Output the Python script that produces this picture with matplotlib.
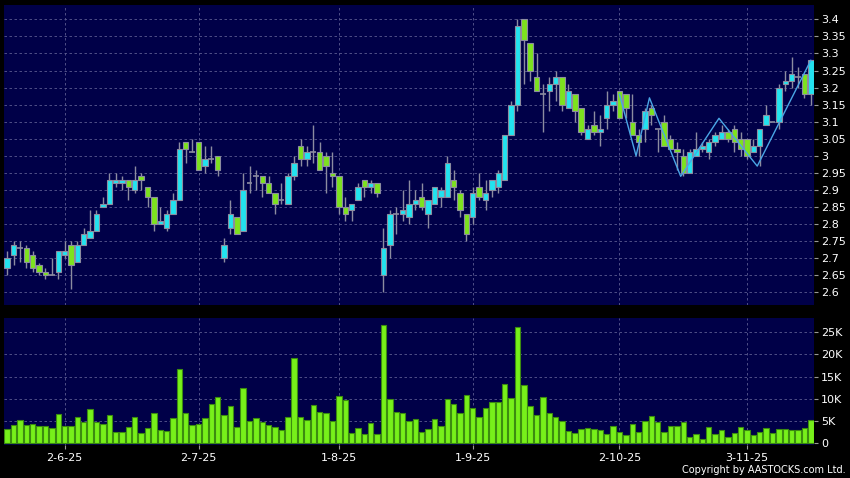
import matplotlib
matplotlib.use("Agg")
import matplotlib.pyplot as plt
import numpy as np

# daily OHLC (HKD)
opens = [2.67, 2.71, 2.73, 2.73, 2.71, 2.68, 2.66, 2.65, 2.66, 2.71,
         2.74, 2.69, 2.74, 2.76, 2.78, 2.85, 2.86, 2.92, 2.92, 2.93,
         2.90, 2.94, 2.91, 2.88, 2.80, 2.79, 2.83, 2.87, 3.04, 3.01,
         3.04, 2.97, 2.99, 3.00, 2.70, 2.79, 2.82, 2.78, 2.92, 2.94,
         2.94, 2.92, 2.89, 2.87, 2.86, 2.94, 3.03, 2.99, 3.01, 3.01,
         3.00, 2.95, 2.94, 2.85, 2.84, 2.87, 2.93, 2.91, 2.92, 2.65,
         2.74, 2.83, 2.83, 2.82, 2.86, 2.88, 2.83, 2.86, 2.88, 2.88,
         2.93, 2.89, 2.83, 2.82, 2.91, 2.87, 2.90, 2.91, 2.93, 3.06,
         3.15, 3.40, 3.33, 3.23, 3.18, 3.19, 3.21, 3.23, 3.14, 3.18,
         3.14, 3.05, 3.09, 3.07, 3.11, 3.15, 3.19, 3.18, 3.10, 3.06,
         3.08, 3.14, 3.08, 3.10, 3.05, 3.02, 3.00, 2.95, 3.00, 3.02,
         3.01, 3.04, 3.05, 3.07, 3.08, 3.05, 3.05, 3.01, 3.03, 3.09,
         3.10, 3.10, 3.21, 3.22, 3.23, 3.24, 3.18]
highs = [2.72, 2.75, 2.75, 2.74, 2.72, 2.685, 2.67, 2.70, 2.72, 2.75,
         2.75, 2.75, 2.79, 2.84, 2.84, 2.88, 2.95, 2.95, 2.94, 2.93,
         2.97, 2.95, 2.91, 2.88, 2.85, 2.84, 2.89, 3.04, 3.04, 3.05,
         3.04, 3.03, 3.03, 3.00, 2.76, 2.87, 2.82, 2.95, 2.97, 2.96,
         2.94, 2.94, 2.89, 2.92, 2.95, 3.00, 3.05, 3.03, 3.09, 3.04,
         3.01, 3.01, 2.94, 2.88, 2.86, 2.92, 2.93, 2.93, 2.92, 2.79,
         2.84, 2.85, 2.90, 2.93, 2.90, 2.92, 2.87, 2.91, 2.91, 3.00,
         2.96, 2.90, 2.83, 2.91, 2.95, 2.93, 2.93, 2.96, 3.06, 3.16,
         3.40, 3.40, 3.33, 3.30, 3.21, 3.23, 3.25, 3.23, 3.21, 3.18,
         3.14, 3.09, 3.13, 3.12, 3.19, 3.18, 3.19, 3.18, 3.18, 3.08,
         3.14, 3.15, 3.08, 3.12, 3.06, 3.04, 3.02, 3.02, 3.07, 3.04,
         3.05, 3.07, 3.09, 3.08, 3.09, 3.07, 3.05, 3.05, 3.08, 3.15,
         3.10, 3.21, 3.25, 3.29, 3.26, 3.24, 3.28]
lows = [2.65, 2.68, 2.69, 2.67, 2.66, 2.65, 2.64, 2.65, 2.64, 2.70,
        2.61, 2.69, 2.74, 2.76, 2.78, 2.85, 2.86, 2.91, 2.90, 2.87,
        2.89, 2.90, 2.85, 2.78, 2.80, 2.78, 2.83, 2.87, 2.98, 3.01,
        2.96, 2.95, 2.98, 2.94, 2.69, 2.77, 2.77, 2.78, 2.89, 2.90,
        2.88, 2.89, 2.83, 2.86, 2.86, 2.93, 2.97, 2.97, 2.98, 2.96,
        2.89, 2.91, 2.83, 2.81, 2.81, 2.87, 2.88, 2.89, 2.88, 2.60,
        2.70, 2.77, 2.81, 2.80, 2.84, 2.84, 2.79, 2.86, 2.85, 2.88,
        2.87, 2.82, 2.75, 2.80, 2.87, 2.84, 2.88, 2.89, 2.93, 3.06,
        3.13, 3.21, 3.22, 3.19, 3.07, 3.13, 3.16, 3.13, 3.14, 3.10,
        3.06, 3.05, 3.06, 3.03, 3.08, 3.13, 3.11, 3.11, 3.06, 3.00,
        3.04, 3.09, 3.01, 3.03, 3.02, 2.96, 2.94, 2.95, 3.00, 3.01,
        2.99, 3.03, 3.05, 3.04, 3.01, 3.00, 2.99, 3.01, 2.97, 3.09,
        3.10, 3.08, 3.19, 3.20, 3.20, 3.17, 3.15]
closes = [2.70, 2.74, 2.73, 2.69, 2.67, 2.66, 2.65, 2.65, 2.72, 2.72,
          2.68, 2.74, 2.77, 2.78, 2.83, 2.86, 2.93, 2.93, 2.93, 2.91,
          2.93, 2.93, 2.88, 2.80, 2.81, 2.83, 2.87, 3.02, 3.02, 3.01,
          2.96, 2.99, 2.99, 2.96, 2.74, 2.83, 2.77, 2.90, 2.92, 2.94,
          2.92, 2.89, 2.86, 2.87, 2.94, 2.98, 2.99, 3.01, 3.01, 2.96,
          2.97, 2.94, 2.85, 2.83, 2.86, 2.91, 2.91, 2.92, 2.89, 2.73,
          2.83, 2.83, 2.84, 2.86, 2.87, 2.85, 2.87, 2.91, 2.90, 2.98,
          2.91, 2.84, 2.77, 2.89, 2.88, 2.89, 2.93, 2.95, 3.06, 3.15,
          3.38, 3.34, 3.25, 3.19, 3.18, 3.21, 3.23, 3.15, 3.19, 3.13,
          3.07, 3.08, 3.07, 3.08, 3.15, 3.16, 3.11, 3.14, 3.06, 3.04,
          3.13, 3.12, 3.08, 3.03, 3.02, 3.01, 2.95, 3.01, 3.02, 3.03,
          3.04, 3.06, 3.07, 3.05, 3.04, 3.02, 3.00, 3.03, 3.08, 3.12,
          3.10, 3.20, 3.22, 3.24, 3.23, 3.18, 3.28]

# volume in thousands of shares
volume_k = [3.2, 4.1, 5.3, 4.1, 4.3, 3.9, 3.8, 3.4, 6.5, 3.9,
            3.8, 5.9, 4.8, 7.7, 4.7, 4.3, 6.3, 2.6, 2.6, 3.6,
            5.9, 2.3, 3.5, 6.9, 2.9, 2.7, 5.6, 16.7, 6.9, 4.0,
            4.3, 5.6, 8.8, 10.5, 6.3, 8.3, 3.7, 12.5, 5.1, 5.6,
            4.7, 4.0, 3.7, 2.9, 5.9, 19.2, 5.8, 5.2, 8.5, 7.0,
            6.8, 5.0, 10.6, 9.8, 2.3, 3.4, 2.0, 4.6, 2.1, 26.6,
            10.0, 7.1, 6.8, 5.1, 5.5, 2.6, 3.2, 5.4, 3.9, 10.0,
            8.9, 6.8, 10.9, 8.0, 5.8, 8.0, 9.3, 9.3, 13.4, 10.2,
            26.1, 13.2, 8.3, 6.4, 10.5, 6.9, 5.9, 5.0, 2.7, 2.2,
            3.2, 3.4, 3.2, 2.9, 2.0, 3.9, 2.6, 1.9, 4.4, 2.6,
            5.0, 6.1, 4.7, 2.6, 3.8, 3.8, 4.8, 1.3, 2.0, 1.0,
            3.7, 2.1, 2.9, 1.4, 2.3, 3.6, 2.9, 1.8, 2.5, 3.5,
            2.4, 3.2, 3.2, 3.0, 2.9, 3.5, 5.3]

# zigzag overlay (bar position, price)
zz_x = [96, 98.6, 100.7, 105.6, 111.6, 117.6, 126]
zz_y = [3.18, 3.00, 3.17, 2.94, 3.11, 2.97, 3.28]

date_pos = [9, 30, 52, 73, 96, 116]
date_labels = ["2-6-25", "2-7-25", "1-8-25", "1-9-25", "2-10-25", "3-11-25"]

price_ticks = [2.6, 2.65, 2.7, 2.75, 2.8, 2.85, 2.9, 2.95, 3.0,
               3.05, 3.1, 3.15, 3.2, 3.25, 3.3, 3.35, 3.4]
vol_ticks = [0, 5, 10, 15, 20, 25]

BG = "#000048"
UP = "#22e3ef"
DOWN = "#7de21e"
EDGE = "#8c8ca0"
GRID = "#5c5c90"

fig = plt.figure(figsize=(8.5, 4.78), dpi=100, facecolor="black")
ax = fig.add_axes([4 / 850, 1 - 305 / 478, 810 / 850, 300 / 478], facecolor=BG)
axv = fig.add_axes([4 / 850, 1 - 445 / 478, 810 / 850, 127 / 478], facecolor=BG)

x = np.arange(len(opens))
o = np.array(opens)
c = np.array(closes)

# wicks
ax.vlines(x, lows, highs, color=EDGE, lw=1, zorder=2)

# bodies
up = c > o
down = c < o
flat = c == o
ax.bar(x[up], (c - o)[up], bottom=o[up], width=0.85, color=UP,
       edgecolor=EDGE, lw=0.8, zorder=3)
ax.bar(x[down], (o - c)[down], bottom=c[down], width=0.85, color=DOWN,
       edgecolor=EDGE, lw=0.8, zorder=3)
ax.hlines(o[flat], x[flat] - 0.45, x[flat] + 0.45, color=EDGE, lw=1.2, zorder=3)

ax.plot(zz_x, zz_y, color="#4aa6e6", lw=1, zorder=4)

ax.set_xlim(-0.5, len(opens) - 0.5)
ax.set_ylim(2.563, 3.442)
ax.set_yticks(price_ticks)
ax.set_yticklabels([f"{v:g}" for v in price_ticks])
ax.set_xticks(date_pos)
ax.tick_params(axis="x", bottom=False, labelbottom=False)

# volume
axv.bar(x, volume_k, width=0.85, color="#77f01a", edgecolor="#3c8c10", lw=0.8, zorder=3)
axv.set_xlim(-0.5, len(opens) - 0.5)
axv.set_ylim(-0.4, 28.2)
axv.set_yticks(vol_ticks)
axv.set_yticklabels(["0"] + [f"{v}K" for v in vol_ticks[1:]])
axv.set_xticks(date_pos)
axv.set_xticklabels(date_labels)

for a in (ax, axv):
    a.yaxis.tick_right()
    a.tick_params(axis="y", colors="#999999", labelcolor="white", labelsize=8,
                  length=3, width=0.8, pad=2)
    a.tick_params(axis="x", colors="#999999", labelcolor="white", labelsize=8,
                  length=3, width=0.8, pad=3)
    a.grid(True, color=GRID, lw=0.6, ls=(0, (3, 3)), zorder=0)
    for s in a.spines.values():
        s.set_visible(False)
    a.set_axisbelow(True)

fig.text(846 / 850, 1 - 470 / 478, "Copyright by AASTOCKS.com Ltd.", color="white",
         fontsize=7, ha="right", va="center")

fig.savefig("out.png", dpi=100, facecolor="black")
